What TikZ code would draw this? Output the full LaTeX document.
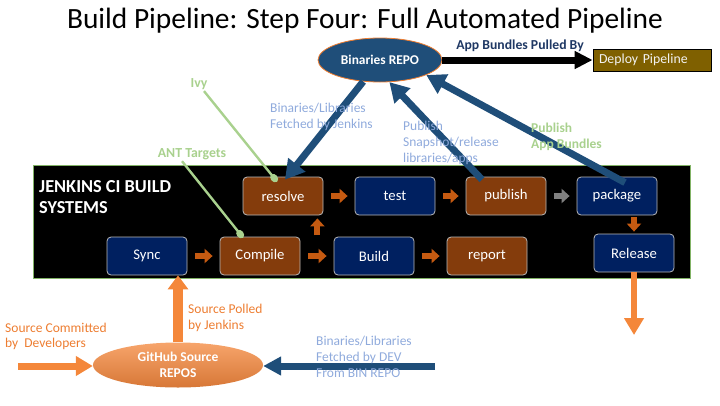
\documentclass[tikz,border=0pt]{standalone}
\usepackage{fontspec}
\setmainfont{Carlito}
\usetikzlibrary{arrows.meta,shapes.geometric,positioning}

\definecolor{navy}{HTML}{002060}
\definecolor{rust}{HTML}{843C0C}
\definecolor{repoblue}{HTML}{1F4E79}
\definecolor{deepblue}{HTML}{1F3864}
\definecolor{paleblue}{HTML}{8FAADC}
\definecolor{palegreen}{HTML}{A9D18E}
\definecolor{framegreen}{HTML}{82B366}
\definecolor{accent}{HTML}{ED7D31}
\definecolor{flow}{HTML}{F4873A}
\definecolor{stepor}{HTML}{C55A11}
\definecolor{olive}{HTML}{7F6000}

\tikzset{
  stage/.style={draw=gray!55, line width=0.8pt, rounded corners=4pt,
    minimum width=80pt, minimum height=38pt, inner sep=0pt,
    text=white, font=\fontsize{14.7}{17}\selectfont},
  navystage/.style={stage, fill=navy},
  ruststage/.style={stage, fill=rust},
  steparrow/.style={-{Triangle[length=8pt,width=14pt]}, line width=6pt,
    stepor, shorten <=8pt, shorten >=7pt},
  repoarrow/.style={-{Triangle[length=19pt,width=21pt]}, line width=7pt, repoblue},
  flowarrow/.style={-{Triangle[length=17pt,width=19pt]}, line width=7pt, flow},
  tagline/.style={palegreen, line width=2.4pt, -{Ellipse[length=9pt,width=7pt]}},
  note/.style={anchor=north west, align=left, inner sep=0pt,
    font=\fontsize{13.5}{16}\selectfont},
}

\begin{document}
\begin{tikzpicture}[x=1pt,y=-1pt]
\useasboundingbox (0,0) rectangle (720,405);

% Title
\node[font=\fontsize{29.4}{33}\selectfont] (title) at (365,21) {Build Pipeline: Step Four: Full Automated Pipeline};

% Jenkins build area
\draw[draw=framegreen, line width=1pt, fill=black] (33,165) rectangle (690,278);
\node[anchor=north west, align=left, inner sep=0pt, text=white,
  font=\bfseries\fontsize{18.3}{21}\selectfont] (jenkins) at (39,180) {JENKINS CI BUILD\\SYSTEMS};

% Stages
\node[ruststage] (resolve) at (283,196) {resolve};
\node[navystage] (test) at (395,196) {test};
\node[ruststage] (publish) at (506,196) {publish};
\node[navystage] (package) at (617,196) {package};
\node[navystage] (sync) at (147,256) {Sync};
\node[ruststage] (compile) at (260,256) {Compile};
\node[navystage] (build) at (374,256) {Build};
\node[ruststage] (report) at (487,256) {report};
\node[navystage] (release) at (634,253) {Release};

% Stage order
\draw[steparrow] (sync) -- (compile);
\draw[steparrow] (compile) -- (build);
\draw[steparrow] (build) -- (report);
\draw[steparrow] (resolve) -- (test);
\draw[steparrow] (test) -- (publish);
\draw[steparrow, gray] (publish) -- (package);
\draw[steparrow, shorten <=2pt, shorten >=2pt] (package.south -| release) -- (release.north);
\coordinate (lift) at ([xshift=-6pt,yshift=-20pt]resolve.south east);
\draw[steparrow, shorten <=0pt, shorten >=3pt] (lift) -- ([xshift=-6pt]resolve.south east);

% Repositories
\node[ellipse, draw=accent, line width=0.8pt, fill=repoblue, minimum width=124pt,
  minimum height=44pt, inner sep=0pt, text=white,
  font=\bfseries\fontsize{13.4}{15}\selectfont] (binrepo) at (380,60) {Binaries REPO};
\node[ellipse, top color=flow!75!white, bottom color=accent!90!black!95, draw=none,
  minimum width=170pt, minimum height=45pt, inner sep=0pt, align=center, text=white,
  font=\bfseries\fontsize{13.5}{16}\selectfont] (github) at (178,365) {GitHub Source\\REPOS};
\node[draw=black, line width=0.8pt, fill=olive, text=white!95!black, text width=106pt,
  inner xsep=6pt, minimum height=22pt, align=left,
  font=\fontsize{13.8}{15}\selectfont] (deploy) at (652,60) {Deploy Pipeline};

% Binary traffic
\draw[-{Triangle[length=18pt,width=17pt]}, line width=7pt] (binrepo.east) -- (deploy.west);
\draw[repoarrow] (binrepo.232) -- ([xshift=2pt,yshift=-3pt]resolve.north);
\draw[repoarrow] ([xshift=-24pt,yshift=-3pt]publish.north) -- (binrepo.293);
\draw[repoarrow] ([xshift=8pt,yshift=-6pt]package.north) -- (binrepo.342);

% Source traffic
\coordinate (devs) at (18,366);
\coordinate (devfetch) at (435,366);
\coordinate (shipped) at (634,335);
\draw[flowarrow, line width=10pt, -{Triangle[length=14pt,width=20pt]}] (github.north) -- (github.north |- sync.south);
\draw[flowarrow] (devs) -- (devs -| github.west);
\draw[repoarrow, -{Triangle[length=18pt,width=18pt]}] (devfetch) -- (devfetch -| github.east);
\draw[flowarrow, line width=6pt] (release.south) -- (shipped);

% Labels
\node[font=\bfseries\fontsize{13.7}{15}\selectfont, text=deepblue] (pulled) at (520,46) {App Bundles Pulled By};
\node[note, text=paleblue] (fetchjenkins) at (270,103) {Binaries/Libraries\\Fetched by Jenkins};
\node[note, text=paleblue] (publishlibs) at (403,121) {Publish\\Snapshot/release\\libraries/apps};
\node[note, text=palegreen, font=\bfseries\fontsize{13.5}{16}\selectfont] (publishapps) at (531,123) {Publish\\App Bundles};
\node[note, text=accent, font=\fontsize{13.5}{15}\selectfont] (committed) at (5,323) {Source Committed\\by~ Developers};
\node[note, text=accent] (polled) at (188,304) {Source Polled\\by Jenkins};
\node[note, text=paleblue] (fetchdev) at (316,336) {Binaries/Libraries\\Fetched by DEV\\From BIN REPO};

% Tools
\node[text=palegreen, font=\bfseries\fontsize{13.8}{15}\selectfont] (ivy) at (199,84) {Ivy};
\node[text=palegreen, font=\bfseries\fontsize{13.8}{15}\selectfont] (ant) at (192,154) {ANT Targets};
\draw[tagline] ([xshift=5pt,yshift=2pt]ivy.south) -- ([xshift=-6pt,yshift=-5pt]resolve.north);
\draw[tagline] ([xshift=-10pt,yshift=2pt]ant.south) -- ([xshift=-17pt,yshift=-1pt]compile.north);
\end{tikzpicture}
\end{document}
